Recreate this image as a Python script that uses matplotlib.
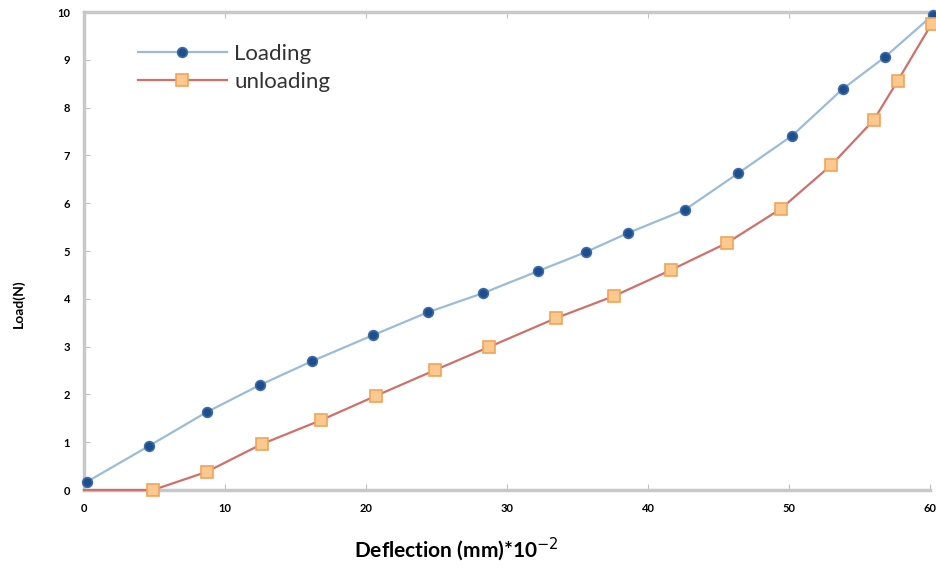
import matplotlib.pyplot as plt

plt.rcParams['font.family'] = ['Lato', 'DejaVu Sans']

# Loading curve (blue circles)
load_x = [0.2, 4.6, 8.7, 12.5, 16.2, 20.5, 24.4, 28.3, 32.2, 35.6, 38.6,
          42.6, 46.4, 50.2, 53.8, 56.8, 60.2]
load_y = [0.17, 0.92, 1.63, 2.2, 2.7, 3.24, 3.72, 4.12, 4.58, 4.98, 5.38,
          5.86, 6.63, 7.41, 8.39, 9.06, 9.94]

# Unloading curve (orange squares); first point is the flat start without marker
unload_x = [0.0, 4.9, 8.7, 12.6, 16.8, 20.7, 24.9, 28.7, 33.5, 37.6, 41.6,
            45.6, 49.4, 53.0, 56.0, 57.7, 60.1]
unload_y = [0.0, 0.0, 0.38, 0.96, 1.46, 1.97, 2.51, 2.99, 3.6, 4.06, 4.6,
            5.17, 5.88, 6.8, 7.74, 8.56, 9.75]

x_ticks = [0, 10, 20, 30, 40, 50, 60]
y_ticks = [0, 1, 2, 3, 4, 5, 6, 7, 8, 9, 10]

fig = plt.figure(figsize=(9.36, 5.69), dpi=100)
ax = fig.add_axes([0.0897, 0.1388, 0.904, 0.840])

ax.plot(load_x, load_y, color='#9bbcd8', lw=1.6, marker='o', ms=7,
        mfc='#1f4e8c', mec='#3b6aa8', mew=1.2, label='Loading', clip_on=False, zorder=3)
ax.plot(unload_x, unload_y, color='#d0706a', lw=1.6, marker='s', ms=8,
        mfc='#fbc98f', mec='#f0a458', mew=1.2, markevery=list(range(1, len(unload_x))),
        label='unloading', clip_on=False, zorder=3)

ax.set_xlim(0, 60)
ax.set_ylim(0, 10)
ax.set_xticks(x_ticks)
ax.set_yticks(y_ticks)
ax.tick_params(direction='in', length=4, color='#c0c0c0', labelsize=8,
               top=True, right=False)
ax.tick_params(axis='y', pad=10)
ax.tick_params(axis='x', pad=9)
for lab in ax.get_xticklabels() + ax.get_yticklabels():
    lab.set_fontweight('bold')

for side in ['left', 'bottom', 'top']:
    ax.spines[side].set_color('#c8c8c8')
    ax.spines[side].set_linewidth(2.5)
ax.spines['right'].set_visible(False)

ax.set_xlabel('Deflection (mm)*10$^{-2}$', fontsize=15, fontweight='bold')
ax.xaxis.set_label_coords(0.44, -0.095)
ax.set_ylabel('Load(N)', fontsize=10, fontweight='bold')
ax.yaxis.set_label_coords(-0.07, 0.39)

ax.legend(loc='upper left', bbox_to_anchor=(0.04, 0.975), frameon=False,
          fontsize=16, handlelength=4.0, labelspacing=0.35, handletextpad=0.35,
          labelcolor='#333333')

fig.savefig('out.png', dpi=100)
